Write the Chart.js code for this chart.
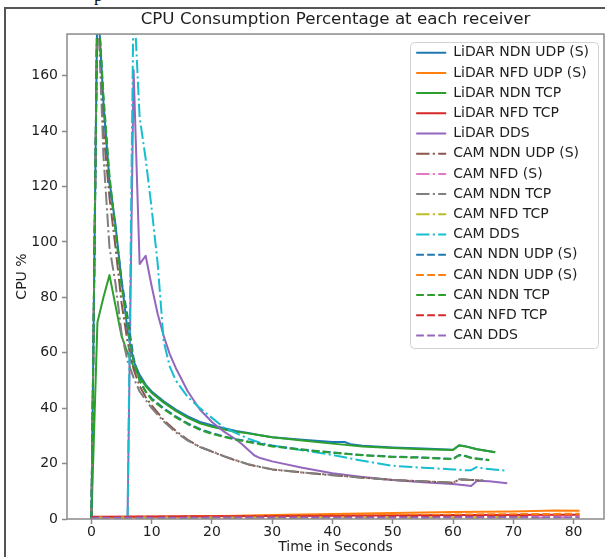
<!DOCTYPE html>
<html>
<head>
<meta charset="utf-8">
<script src="https://cdn.jsdelivr.net/npm/chart.js@4.4.1/dist/chart.umd.min.js"></script>
<style>
  html, body { margin: 0; padding: 0; background: #ffffff; }
  #wrap { position: relative; width: 605px; height: 557px; overflow: hidden; background: #ffffff; }
  #frame { position: absolute; left: 4px; top: 7px; width: 700px; height: 700px;
           border-left: 2px solid #555555; border-top: 2px solid #555555; }
  #cut { position: absolute; left: 94px; top: -14px; font: 18px/18px "Liberation Serif", serif; color: #111; }
  #c { position: absolute; left: 0; top: 0; }
</style>
</head>
<body>
<div id="wrap">
  <div id="frame"></div>
  <span id="cut">p</span>
  <canvas id="c" width="605" height="557"></canvas>
</div>
<script>
// ---------------- DATA ----------------
const chartTitle = 'CPU Consumption Percentage at each receiver';
const xAxisTitle = 'Time in Seconds';
const yAxisTitle = 'CPU %';
const xTickValues = [0, 10, 20, 30, 40, 50, 60, 70, 80];
const yTickValues = [0, 20, 40, 60, 80, 100, 120, 140, 160];

const seriesLabels = [
  'LiDAR NDN UDP (S)', 'LiDAR NFD UDP (S)', 'LiDAR NDN TCP', 'LiDAR NFD TCP', 'LiDAR DDS',
  'CAM NDN UDP (S)', 'CAM NFD (S)', 'CAM NDN TCP', 'CAM NFD TCP', 'CAM DDS',
  'CAN NDN UDP (S)', 'CAN NDN UDP (S)', 'CAN NDN TCP', 'CAN NFD TCP', 'CAN DDS'
];

// LiDAR NDN UDP (S)
const lidarNdnUdpT = [0,1,2,3,4,5,6,7,8,9,10,12,14,16,18,20,22,24,26,28,30,35,40,42,43,45,50,55,60,61,62,64,67];
const lidarNdnUdpY = [0,190,150,122,106,86,68,57,52,48.5,46,42.5,39.5,37,35,33.8,32.8,31.8,31,30.2,29.5,28.6,27.8,27.8,27.0,26.4,25.8,25.4,25,26.6,26.3,25.2,24.1];
// LiDAR NFD UDP (S)
const lidarNfdUdpT = [0,10,20,30,40,50,60,70,77,81];
const lidarNfdUdpY = [0.6,0.7,1.0,1.4,1.8,2.2,2.5,2.7,3.1,3.0];
// LiDAR NDN TCP
const lidarNdnTcpT = [0,1,2,3,4,5,6,7,8,9,10,12,14,16,18,20,22,24,26,28,30,35,40,45,50,55,60,61,62,64,67];
const lidarNdnTcpY = [0,71,80,88,77,66,60,55,51,48,45.5,42,39,36.5,34.5,33.3,32.3,31.5,30.9,30.2,29.5,28.3,27.2,26.2,25.6,25.2,24.9,26.5,26.2,25.2,24.1];
// LiDAR NFD TCP
const lidarNfdTcpT = [0,20,40,60,81];
const lidarNfdTcpY = [0.8,1.0,1.2,1.4,1.5];
// LiDAR DDS
const lidarDdsT = [6,7,8,9,10,11,12,13,14,16,18,20,22,24,25,26,27,28,30,35,40,45,50,55,60,62,63,64,66,69];
const lidarDdsY = [0,162,92,95,84,74,66,59.5,54.5,46,39.5,35,31.5,28.7,27,25,23,22,20.8,18.5,16.5,15.2,14.1,13.3,12.6,12.2,11.9,13.8,13.6,12.9];

// CAM NDN UDP (S)
const camNdnUdpT = [0,1,2,3,4,5,6,7,8,9,10,12,14,16,18,20,22,24,26,28,30,35,40,45,50,55,60,61,62,63,65];
const camNdnUdpY = [0,190,140,116,98,78,64,54,48,44,41,35.7,31.8,28.6,26,24.3,22.6,21.1,19.7,18.8,17.9,16.8,15.8,14.9,14.1,13.6,13.1,14.2,14.2,14.1,13.9];
// CAM NFD (S)
const camNfdT = [0,40,81];
const camNfdY = [0.4,0.5,0.6];
// CAM NDN TCP
const camNdnTcpT = [0,1,2,3,4,5,6,7,8,9,10,12,14,16,18,20,22,24,26,28,30,35,40,45,50,55,60,61,62,63,65];
const camNdnTcpY = [0,190,131,98,85,67,57,51,46,43,40,35.2,31.3,28.3,26,24.4,22.7,21.2,19.8,18.8,17.9,16.8,15.9,14.9,14.1,13.6,13.1,14.3,14.3,14.1,14];
// CAM NFD TCP
const camNfdTcpT = [0,40,72];
const camNfdTcpY = [0.5,0.6,0.7];
// CAM DDS
const camDdsT = [6,7,8,9,10,11,12,13,14,16,18,20,22,24,26,28,30,35,40,45,50,55,60,62,63,64,65,69];
const camDdsY = [0,190,145,130,112,92,64,55,50,44,40,36.5,33,31,29,27.5,26.5,24.8,23.1,21,19.2,18.5,17.9,17.6,17.6,18.8,18.2,17.4];

// CAN NDN UDP (S) (first)
const canNdnUdpT = [0,1,2,3,4,5,6,7,8,9,10,12,14,16,18,20,22,24,26,28,30,35,40,45,50,55,60,61,62,63,66];
const canNdnUdpY = [0,190,150,121,105,86,73,58,50,46,43.5,40,37,34.5,32.5,31,29.8,28.8,28,27.2,26.4,25.1,24,23.1,22.5,22.2,21.7,23.1,22.8,22.1,21.3];
// CAN NDN UDP (S) (second)
const canNdnUdp2T = [0,20,40,60,81];
const canNdnUdp2Y = [0.6,0.9,1.3,1.6,1.9];
// CAN NDN TCP
const canNdnTcpT = [0,1,2,3,4,5,6,7,8,9,10,12,14,16,18,20,22,24,26,28,30,35,40,45,50,55,60,61,62,63,66];
const canNdnTcpY = [0,190,153,124,104,84,70,57,50,46,43,39.6,36.7,34.2,32.2,30.7,29.6,28.6,27.8,27,26.2,25,23.9,23,22.4,22.1,21.6,23.0,22.7,22,21.2];
// CAN NFD TCP
const canNfdTcpT = [0,20,40,60,73];
const canNfdTcpY = [0.7,0.9,1.0,1.1,1.2];
// CAN DDS
const canDdsT = [0,20,40,60,81];
const canDdsY = [0.4,0.5,0.5,0.6,0.6];

const seriesTimes = [lidarNdnUdpT, lidarNfdUdpT, lidarNdnTcpT, lidarNfdTcpT, lidarDdsT,
  camNdnUdpT, camNfdT, camNdnTcpT, camNfdTcpT, camDdsT,
  canNdnUdpT, canNdnUdp2T, canNdnTcpT, canNfdTcpT, canDdsT];
const seriesValues = [lidarNdnUdpY, lidarNfdUdpY, lidarNdnTcpY, lidarNfdTcpY, lidarDdsY,
  camNdnUdpY, camNfdY, camNdnTcpY, camNfdTcpY, camDdsY,
  canNdnUdpY, canNdnUdp2Y, canNdnTcpY, canNfdTcpY, canDdsY];

// ---------------- STYLE ----------------
const seriesColors = ['#1f77b4','#ff7f0e','#2ca02c','#d62728','#9467bd',
  '#8c564b','#e377c2','#7f7f7f','#bcbd22','#17becf',
  '#1f77b4','#ff7f0e','#2ca02c','#d62728','#9467bd'];
const SOLID = [], DASHED = [7.7, 3.3], DASHDOT = [13.3, 3.3, 2.1, 3.3];
const seriesDash = [SOLID,SOLID,SOLID,SOLID,SOLID, DASHDOT,DASHDOT,DASHDOT,DASHDOT,DASHDOT, DASHED,DASHED,DASHED,DASHED,DASHED];

const FONT = 'DejaVu Sans';
const TXT = '#1e1e1e';
const AXC = '#8a8a8a';

const N = seriesLabels.length;
const datasets = seriesLabels.map((label, i) => ({
  label,
  data: seriesTimes[i].map((t, k) => ({ x: t, y: seriesValues[i][k] })),
  borderColor: seriesColors[i],
  backgroundColor: seriesColors[i],
  borderWidth: 2,
  borderDash: seriesDash[i],
  borderJoinStyle: 'round',
  borderCapStyle: 'butt',
  pointRadius: 0,
  pointHoverRadius: 0,
  tension: 0,
  fill: false,
  order: N - i
}));

const legendPlace = {
  id: 'legendPlace',
  afterLayout(chart) {
    const lg = chart.legend, ca = chart.chartArea;
    if (!lg) return;
    const w = lg.width;
    lg.left = 410; lg.right = lg.left + w;
    lg.top = 39.5; lg.bottom = ca.bottom;
  },
  afterDraw(chart) {
    const ctx = chart.ctx;
    ctx.save();
    ctx.strokeStyle = '#d2d2d2';
    ctx.lineWidth = 1;
    const x = 410.5, y = 42.5, w = 188, h = 306, r = 4;
    ctx.beginPath();
    ctx.moveTo(x + r, y);
    ctx.lineTo(x + w - r, y); ctx.arcTo(x + w, y, x + w, y + r, r);
    ctx.lineTo(x + w, y + h - r); ctx.arcTo(x + w, y + h, x + w - r, y + h, r);
    ctx.lineTo(x + r, y + h); ctx.arcTo(x, y + h, x, y + h - r, r);
    ctx.lineTo(x, y + r); ctx.arcTo(x, y, x + r, y, r);
    ctx.closePath();
    ctx.stroke();
    ctx.restore();
  }
};

const spines = {
  id: 'spines',
  afterDatasetsDraw(chart) {
    const {ctx, chartArea: ca} = chart;
    ctx.save();
    ctx.strokeStyle = AXC;
    ctx.lineWidth = 1.5;
    ctx.strokeRect(ca.left, ca.top, ca.right - ca.left, ca.bottom - ca.top);
    ctx.restore();
  }
};

new Chart(document.getElementById('c'), {
  type: 'line',
  data: { datasets },
  options: {
    responsive: false,
    animation: false,
    devicePixelRatio: 1,
    layout: { padding: { left: 0, right: 1, top: 0, bottom: 0 } },
    plugins: {
      title: {
        display: true,
        text: chartTitle,
        fullSize: false,
        color: TXT,
        font: { family: FONT, size: 16.7, weight: 'normal' },
        padding: { top: 10, bottom: 4 }
      },
      legend: {
        display: true,
        position: 'chartArea',
        align: 'start',
        labels: {
          usePointStyle: true,
          pointStyle: 'line',
          pointStyleWidth: 30,
          color: TXT,
          font: { family: FONT, size: 14 },
          padding: 6.2,
          sort: (a, b) => a.datasetIndex - b.datasetIndex,
          generateLabels(chart) {
            const items = Chart.defaults.plugins.legend.labels.generateLabels(chart);
            items.forEach(it => {
              const ds = chart.data.datasets[it.datasetIndex];
              it.lineDash = ds.borderDash;
              it.lineDashOffset = 0;
              it.lineWidth = ds.borderWidth;
              it.strokeStyle = ds.borderColor;
              it.fillStyle = ds.borderColor;
              it.lineCap = 'butt';
            });
            return items;
          }
        }
      },
      tooltip: { enabled: false }
    },
    scales: {
      x: {
        type: 'linear',
        min: -4.05,
        max: 85.05,
        afterBuildTicks: (s) => { s.ticks = xTickValues.map(v => ({ value: v })); },
        afterFit: (s) => { s.height = 38; },
        border: { display: false },
        grid: { display: true, drawOnChartArea: false, drawTicks: true, tickLength: 5, tickColor: AXC, tickWidth: 1.5 },
        ticks: { color: TXT, font: { family: FONT, size: 14 }, padding: 0, maxRotation: 0, autoSkip: false },
        title: { display: true, text: xAxisTitle, color: TXT, font: { family: FONT, size: 14 }, padding: { top: 0, bottom: 1 } }
      },
      y: {
        type: 'linear',
        min: 0,
        max: 175,
        afterBuildTicks: (s) => { s.ticks = yTickValues.map(v => ({ value: v })); },
        afterFit: (s) => { s.width = 67; },
        border: { display: false },
        grid: { display: true, drawOnChartArea: false, drawTicks: true, tickLength: 5, tickColor: AXC, tickWidth: 1.5 },
        ticks: { color: TXT, font: { family: FONT, size: 14 }, padding: 4, autoSkip: false },
        title: { display: true, text: yAxisTitle, color: TXT, font: { family: FONT, size: 14 }, padding: { top: 13.5, bottom: 0 } }
      }
    }
  },
  plugins: [legendPlace, spines]
});
</script>
</body>
</html>
